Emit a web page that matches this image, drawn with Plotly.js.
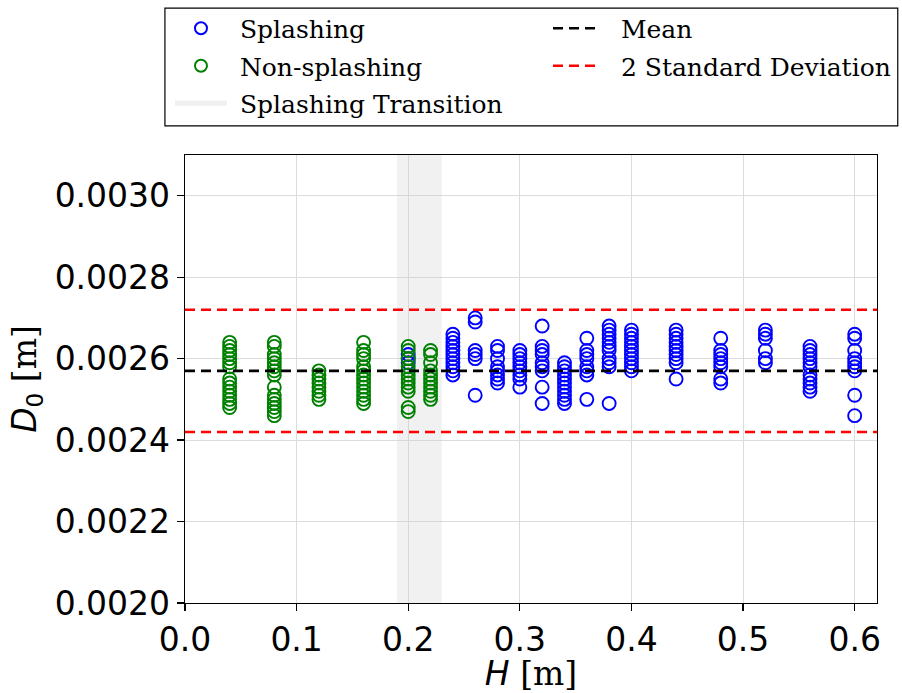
<!DOCTYPE html>
<html>
<head>
<meta charset="utf-8">
<script src="https://cdn.plot.ly/plotly-3.0.1.min.js"></script>
<style>html,body{margin:0;padding:0;background:#fff;}</style>
</head>
<body>
<div id="chart" style="width:902px;height:693px;"></div>
<script>
// ---- Data ----
const splashH = [0.20,0.20,0.20,
  0.24,0.24,0.24,0.24,0.24,0.24,0.24,0.24,0.24,0.24,0.24,
  0.26,0.26,0.26,0.26,0.26,0.26,
  0.28,0.28,0.28,0.28,0.28,0.28,0.28,0.28,
  0.30,0.30,0.30,0.30,0.30,0.30,0.30,0.30,0.30,
  0.32,0.32,0.32,0.32,0.32,0.32,0.32,0.32,0.32,
  0.34,0.34,0.34,0.34,0.34,0.34,0.34,0.34,0.34,0.34,0.34,
  0.36,0.36,0.36,0.36,0.36,0.36,0.36,0.36,
  0.38,0.38,0.38,0.38,0.38,0.38,0.38,0.38,0.38,0.38,0.38,
  0.40,0.40,0.40,0.40,0.40,0.40,0.40,0.40,0.40,0.40,0.40,
  0.44,0.44,0.44,0.44,0.44,0.44,0.44,0.44,0.44,0.44,
  0.48,0.48,0.48,0.48,0.48,0.48,0.48,0.48,
  0.52,0.52,0.52,0.52,0.52,0.52,
  0.56,0.56,0.56,0.56,0.56,0.56,0.56,0.56,0.56,0.56,0.56,
  0.60,0.60,0.60,0.60,0.60,0.60,0.60,0.60,0.60];
const splashD = [0.00261,0.00260,0.00259,
  0.00266,0.00265,0.00264,0.00263,0.00262,0.00261,0.00260,0.00259,0.00258,0.00257,0.00256,
  0.00270,0.00269,0.00262,0.00261,0.00260,0.00251,
  0.00263,0.00262,0.00260,0.00258,0.00257,0.00256,0.00255,0.00254,
  0.00262,0.00261,0.00260,0.00259,0.00258,0.00257,0.00256,0.00255,0.00253,
  0.00268,0.00263,0.00262,0.00261,0.00259,0.00258,0.00257,0.00253,0.00249,
  0.00259,0.00258,0.00257,0.00256,0.00255,0.00254,0.00253,0.00252,0.00251,0.00250,0.00249,
  0.00265,0.00262,0.00261,0.00260,0.00258,0.00257,0.00256,0.00250,
  0.00268,0.00267,0.00266,0.00265,0.00264,0.00263,0.00262,0.00260,0.00259,0.00258,0.00249,
  0.00267,0.00266,0.00265,0.00264,0.00263,0.00262,0.00261,0.00260,0.00259,0.00258,0.00257,
  0.00267,0.00266,0.00265,0.00264,0.00263,0.00262,0.00261,0.00260,0.00259,0.00255,
  0.00265,0.00262,0.00261,0.00260,0.00259,0.00258,0.00255,0.00254,
  0.00267,0.00266,0.00265,0.00262,0.00260,0.00259,
  0.00263,0.00262,0.00261,0.00260,0.00259,0.00258,0.00256,0.00255,0.00254,0.00253,0.00252,
  0.00266,0.00265,0.00262,0.00260,0.00259,0.00258,0.00257,0.00251,0.00246];

const nonSplashH = [
  0.04,0.04,0.04,0.04,0.04,0.04,0.04,0.04,0.04,0.04,0.04,0.04,0.04,0.04,0.04,
  0.08,0.08,0.08,0.08,0.08,0.08,0.08,0.08,0.08,0.08,0.08,0.08,0.08,0.08,0.08,
  0.12,0.12,0.12,0.12,0.12,0.12,0.12,0.12,
  0.16,0.16,0.16,0.16,0.16,0.16,0.16,0.16,0.16,0.16,0.16,0.16,0.16,0.16,
  0.20,0.20,0.20,0.20,0.20,0.20,0.20,0.20,0.20,0.20,0.20,0.20,
  0.22,0.22,0.22,0.22,0.22,0.22,0.22,0.22,0.22,0.22,0.22];
const nonSplashD = [
  0.00264,0.00263,0.00262,0.00261,0.00260,0.00259,0.00258,0.00255,0.00254,0.00253,0.00252,0.00251,0.00250,0.00249,0.00248,
  0.00264,0.00263,0.00261,0.00260,0.00259,0.00258,0.00257,0.00256,0.00253,0.00251,0.00250,0.00249,0.00248,0.00247,0.00246,
  0.00257,0.00256,0.00255,0.00254,0.00253,0.00252,0.00251,0.00250,
  0.00264,0.00262,0.00261,0.00260,0.00258,0.00257,0.00256,0.00255,0.00254,0.00253,0.00252,0.00251,0.00250,0.00249,
  0.00263,0.00262,0.00260,0.00258,0.00257,0.00256,0.00255,0.00254,0.00253,0.00252,0.00248,0.00247,
  0.00262,0.00261,0.00259,0.00257,0.00256,0.00255,0.00254,0.00253,0.00252,0.00251,0.00250];

const meanD = 0.00257;
const upper2SD = 0.00272;
const lower2SD = 0.00242;
const transitionH = [0.19, 0.23];
const xRange = [0, 0.62];
const yRange = [0.0020, 0.0031];
const xTicks = [0.0,0.1,0.2,0.3,0.4,0.5,0.6];
const xTickText = ['0.0','0.1','0.2','0.3','0.4','0.5','0.6'];
const yTicks = [0.0020,0.0022,0.0024,0.0026,0.0028,0.0030];
const yTickText = ['0.0020','0.0022','0.0024','0.0026','0.0028','0.0030'];

const NB = '\u00a0';

// ---- Traces ----
const shade = {
  x: [transitionH[0], transitionH[1], transitionH[1], transitionH[0], transitionH[0]],
  y: [yRange[0], yRange[0], yRange[1], yRange[1], yRange[0]],
  mode: 'lines', fill: 'toself', fillcolor: 'rgba(200,200,200,0.25)',
  line: {width: 0, color: 'rgba(0,0,0,0)'},
  name: 'Splashing Transition', showlegend: false, hoverinfo: 'skip'
};
const shadeKey = {
  x: [null], y: [null], mode: 'lines', name: NB + 'Splashing Transition',
  legend: 'legend', legendrank: 3, legendgroup: 'c',
  line: {width: 20, color: '#f0f0f0'}
};
const splash = {
  x: splashH, y: splashD, mode: 'markers', type: 'scatter', name: NB + 'Splashing',
  legend: 'legend', legendrank: 1, legendgroup: 'a',
  marker: {symbol: 'circle-open', size: 13, color: '#0000ff', line: {width: 1.9}}
};
const nonSplash = {
  x: nonSplashH, y: nonSplashD, mode: 'markers', type: 'scatter', name: NB + 'Non-splashing',
  legend: 'legend', legendrank: 2, legendgroup: 'b',
  marker: {symbol: 'circle-open', size: 13, color: '#008000', line: {width: 1.9}}
};
const meanLine = {
  x: xRange, y: [meanD, meanD], mode: 'lines', name: NB + NB + 'Mean',
  legend: 'legend2', legendrank: 1, legendgroup: 'd',
  line: {color: '#000000', width: 2.6, dash: '10px,6px'}
};
const sdUpper = {
  x: xRange, y: [upper2SD, upper2SD], mode: 'lines', name: NB + NB + '2 Standard Deviation',
  legend: 'legend2', legendrank: 2, legendgroup: 'e',
  line: {color: '#ff0000', width: 2.6, dash: '10px,6px'}
};
const sdLower = {
  x: xRange, y: [lower2SD, lower2SD], mode: 'lines', name: '2 Standard Deviation',
  legend: 'legend2', legendgroup: 'e', showlegend: false,
  line: {color: '#ff0000', width: 2.6, dash: '10px,6px'}
};

const legendFont = {family: 'DejaVu Serif', size: 25, color: '#000'};
const axFont = {family: 'DejaVu Sans', size: 33, color: '#000'};
const titleFont = {family: 'DejaVu Sans', size: 33, color: '#000'};

const layout = {
  width: 902, height: 693,
  margin: {l: 185, r: 25, t: 155, b: 90, autoexpand: false},
  paper_bgcolor: '#fff', plot_bgcolor: '#fff',
  showlegend: true,
  xaxis: {
    range: xRange, tickvals: xTicks, ticktext: xTickText,
    showgrid: true, gridcolor: '#dcdcdc', gridwidth: 1, zeroline: false,
    showline: true, linecolor: '#000', linewidth: 1.3, mirror: true,
    ticks: 'outside', ticklen: 7, tickwidth: 1.2, tickcolor: '#000',
    tickfont: axFont, automargin: false,
    title: {text: '<i>H</i> <span style="font-family:DejaVu Serif">[m]</span>', font: titleFont, standoff: 0}
  },
  yaxis: {
    range: yRange, tickvals: yTicks, ticktext: yTickText,
    showgrid: true, gridcolor: '#dcdcdc', gridwidth: 1, zeroline: false,
    showline: true, linecolor: '#000', linewidth: 1.3, mirror: true,
    ticks: 'outside', ticklen: 7, tickwidth: 1.2, tickcolor: '#000',
    tickfont: axFont, automargin: false,
    title: {text: '<i>D</i><sub>0</sub> <span style="font-family:DejaVu Serif">[m]</span>', font: titleFont, standoff: 8}
  },
  legend: {
    x: -0.0217, y: 1.3337, xanchor: 'left', yanchor: 'top',
    bgcolor: 'rgba(0,0,0,0)', borderwidth: 0, font: legendFont,
    itemsizing: 'constant', itemwidth: 52, traceorder: 'grouped', tracegroupgap: 2
  },
  legend2: {
    x: 0.5246, y: 1.3337, xanchor: 'left', yanchor: 'top',
    bgcolor: 'rgba(0,0,0,0)', borderwidth: 0, font: legendFont,
    itemwidth: 47, traceorder: 'grouped', tracegroupgap: 2
  },
  shapes: [{
    type: 'rect', xref: 'paper', yref: 'paper',
    x0: -0.029, x1: 1.03, y0: 1.065, y1: 1.328,
    line: {color: '#000', width: 1.2}, fillcolor: 'rgba(0,0,0,0)', layer: 'above'
  }]
};

Plotly.newPlot('chart', [shade, splash, nonSplash, meanLine, sdUpper, sdLower, shadeKey], layout, {displayModeBar: false, staticPlot: true});
</script>
</body>
</html>
